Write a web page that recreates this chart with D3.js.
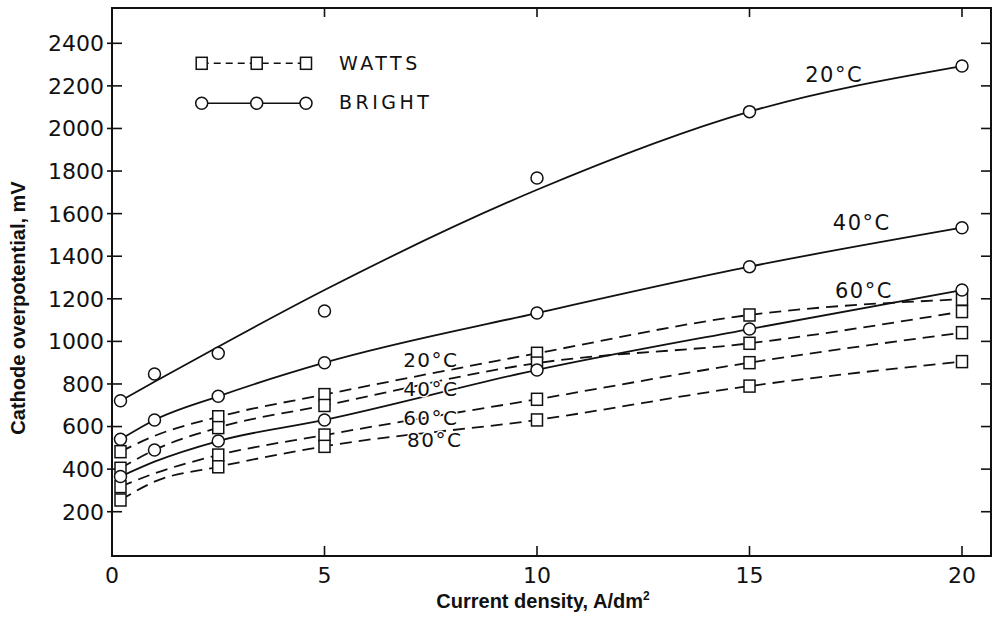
<!DOCTYPE html>
<html>
<head>
<meta charset="utf-8">
<script src="https://cdn.jsdelivr.net/npm/d3@7"></script>
<style>
  body { margin: 0; background: #fff; }
  svg { display: block; }
</style>
</head>
<body>
<div id="chart"></div>
<script>
// measured current densities (A/dm2)
var brightX = [0.2, 1, 2.5, 5, 10, 15, 20];
var wattsX = [0.2, 2.5, 5, 10, 15, 20];
// x positions the drawn (smoothed) curves were read at
var fitX = [0.2, 1, 2.5, 5, 10, 15, 20];

// data points, cathode overpotential in mV
var bright20 = [721, 847, 944, 1143, 1767, 2079, 2293];
var bright40 = [540, 631, 742, 900, 1133, 1351, 1534];
var bright60 = [365, 490, 532, 631, 866, 1058, 1241];
var watts20 = [482, 646, 750, 944, 1124, 1198];
var watts40 = [404, 595, 699, 898, 991, 1140];
var watts60 = [318, 466, 560, 728, 900, 1041];
var watts80 = [255, 411, 507, 631, 790, 905];

// hand drawn curves
var bright20Fit = [721, 810, 975, 1241, 1712, 2079, 2293];
var bright40Fit = [540, 631, 742, 900, 1133, 1351, 1534];
var bright60Fit = [365, 435, 532, 631, 866, 1058, 1241];
var watts20Fit = [482, 556, 646, 750, 944, 1124, 1198];
var watts40Fit = [404, 490, 595, 699, 898, 991, 1140];
var watts60Fit = [318, 380, 466, 560, 728, 900, 1041];
var watts80Fit = [255, 341, 411, 507, 631, 790, 905];

var xTicks = [0, 5, 10, 15, 20];
var yTicks = [200, 400, 600, 800, 1000, 1200, 1400, 1600, 1800, 2000, 2200, 2400];

// curve labels: text, x, y in data units
var brightLabels = [["20°C", 16.31, 2218], ["40°C", 16.96, 1523], ["60°C", 17.01, 1204]];
var wattsLabels = [["20°C", 6.85, 880], ["40°C", 6.85, 744], ["60°C", 6.85, 607], ["80°C", 6.94, 504]];

var width = 994, height = 622;
var frame = { left: 112, right: 991, top: 8, bottom: 556 };

var svg = d3.select("#chart").append("svg")
    .attr("width", width)
    .attr("height", height);

var x = d3.scaleLinear().domain([0, 20]).range([112, 962]);
var y = d3.scaleLinear().domain([0, 2400]).range([554.3, 43.3]);

var ink = "#111";
var tickFont = "'DejaVu Sans', sans-serif";
var titleFont = "'Liberation Sans', Arial, sans-serif";

// frame
svg.append("rect")
    .attr("x", frame.left).attr("y", frame.top)
    .attr("width", frame.right - frame.left)
    .attr("height", frame.bottom - frame.top)
    .attr("fill", "none").attr("stroke", ink).attr("stroke-width", 2);

// left axis ticks + labels
var yt = svg.append("g");
yt.selectAll("line.l").data(yTicks).enter().append("line")
    .attr("x1", frame.left - 5).attr("x2", frame.left + 10)
    .attr("y1", function(d) { return y(d); }).attr("y2", function(d) { return y(d); })
    .attr("stroke", ink).attr("stroke-width", 1.6);
yt.selectAll("line.r").data(yTicks).enter().append("line")
    .attr("x1", frame.right - 10).attr("x2", frame.right)
    .attr("y1", function(d) { return y(d); }).attr("y2", function(d) { return y(d); })
    .attr("stroke", ink).attr("stroke-width", 1.6);
yt.selectAll("text").data(yTicks).enter().append("text")
    .attr("x", 104)
    .attr("y", function(d) { return y(d); })
    .attr("dy", "0.36em")
    .attr("text-anchor", "end")
    .attr("font-family", tickFont).attr("font-size", 22)
    .attr("fill", ink)
    .text(function(d) { return d; });

// bottom / top ticks
var xt = svg.append("g");
xt.selectAll("line.b").data(xTicks.slice(1)).enter().append("line")
    .attr("x1", function(d) { return x(d); }).attr("x2", function(d) { return x(d); })
    .attr("y1", frame.bottom).attr("y2", frame.bottom - 10)
    .attr("stroke", ink).attr("stroke-width", 1.6);
xt.selectAll("line.t").data(xTicks.slice(1)).enter().append("line")
    .attr("x1", function(d) { return x(d); }).attr("x2", function(d) { return x(d); })
    .attr("y1", frame.top).attr("y2", frame.top + 9)
    .attr("stroke", ink).attr("stroke-width", 1.6);
xt.selectAll("text").data(xTicks).enter().append("text")
    .attr("x", function(d) { return x(d); })
    .attr("y", 583)
    .attr("text-anchor", "middle")
    .attr("font-family", tickFont).attr("font-size", 22)
    .attr("fill", ink)
    .text(function(d) { return d; });

// axis titles
var xTitle = svg.append("text")
    .attr("x", 543).attr("y", 608)
    .attr("text-anchor", "middle")
    .attr("font-family", titleFont).attr("font-weight", "bold").attr("font-size", 20)
    .attr("fill", ink);
xTitle.append("tspan").text("Current density, A/dm");
xTitle.append("tspan").attr("dy", -8).attr("font-size", 12).text("2");

svg.append("text")
    .attr("transform", "translate(25,308) rotate(-90)")
    .attr("text-anchor", "middle")
    .attr("font-family", titleFont).attr("font-weight", "bold").attr("font-size", 20)
    .attr("fill", ink)
    .text("Cathode overpotential, mV");

// curves
var line = d3.line()
    .x(function(d) { return x(d[0]); })
    .y(function(d) { return y(d[1]); })
    .curve(d3.curveMonotoneX);

function pairs(xs, ys) { return xs.map(function(v, i) { return [v, ys[i]]; }); }

var wattsFits = [watts20Fit, watts40Fit, watts60Fit, watts80Fit];
var brightFits = [bright20Fit, bright40Fit, bright60Fit];

svg.append("g").selectAll("path").data(wattsFits).enter().append("path")
    .attr("d", function(d) { return line(pairs(fitX, d)); })
    .attr("fill", "none").attr("stroke", ink).attr("stroke-width", 1.8)
    .attr("stroke-dasharray", "12,7");

svg.append("g").selectAll("path").data(brightFits).enter().append("path")
    .attr("d", function(d) { return line(pairs(fitX, d)); })
    .attr("fill", "none").attr("stroke", ink).attr("stroke-width", 1.8);

// markers
var wattsPts = [];
[watts20, watts40, watts60, watts80].forEach(function(s) {
  wattsPts = wattsPts.concat(pairs(wattsX, s));
});
var brightPts = [];
[bright20, bright40, bright60].forEach(function(s) {
  brightPts = brightPts.concat(pairs(brightX, s));
});

svg.append("g").selectAll("rect").data(wattsPts).enter().append("rect")
    .attr("x", function(d) { return x(d[0]) - 5.5; })
    .attr("y", function(d) { return y(d[1]) - 6; })
    .attr("width", 11).attr("height", 12)
    .attr("fill", "#fff").attr("stroke", ink).attr("stroke-width", 1.5);

svg.append("g").selectAll("circle").data(brightPts).enter().append("circle")
    .attr("cx", function(d) { return x(d[0]); })
    .attr("cy", function(d) { return y(d[1]); })
    .attr("r", 6)
    .attr("fill", "#fff").attr("stroke", ink).attr("stroke-width", 1.5);

// curve labels
svg.append("g").selectAll("text").data(brightLabels.concat(wattsLabels)).enter().append("text")
    .attr("x", function(d) { return x(d[1]); })
    .attr("y", function(d) { return y(d[2]); })
    .attr("font-family", tickFont)
    .attr("font-size", function(d, i) { return i < 3 ? 21 : 20; })
    .attr("letter-spacing", 1.5)
    .attr("fill", ink)
    .attr("stroke", "#fff").attr("stroke-width", 3).attr("paint-order", "stroke")
    .text(function(d) { return d[0]; });

// legend
var legend = svg.append("g");
var legX = [201.7, 256.7, 306];
legend.append("line")
    .attr("x1", legX[0]).attr("x2", legX[2]).attr("y1", 63.3).attr("y2", 63.3)
    .attr("stroke", ink).attr("stroke-width", 1.6).attr("stroke-dasharray", "7,5");
legend.selectAll("rect").data(legX).enter().append("rect")
    .attr("x", function(d) { return d - 5.5; }).attr("y", 57.3)
    .attr("width", 11).attr("height", 12)
    .attr("fill", "#fff").attr("stroke", ink).attr("stroke-width", 1.5);
legend.append("line")
    .attr("x1", legX[0]).attr("x2", legX[2]).attr("y1", 103.3).attr("y2", 103.3)
    .attr("stroke", ink).attr("stroke-width", 1.6);
legend.selectAll("circle").data(legX).enter().append("circle")
    .attr("cx", function(d) { return d; }).attr("cy", 103.3).attr("r", 6)
    .attr("fill", "#fff").attr("stroke", ink).attr("stroke-width", 1.5);
legend.selectAll("text").data(["WATTS", "BRIGHT"]).enter().append("text")
    .attr("x", 339)
    .attr("y", function(d, i) { return i === 0 ? 69.5 : 108.5; })
    .attr("font-family", tickFont).attr("font-size", 19)
    .attr("letter-spacing", 3.5)
    .attr("fill", ink)
    .text(function(d) { return d; });
</script>
</body>
</html>
